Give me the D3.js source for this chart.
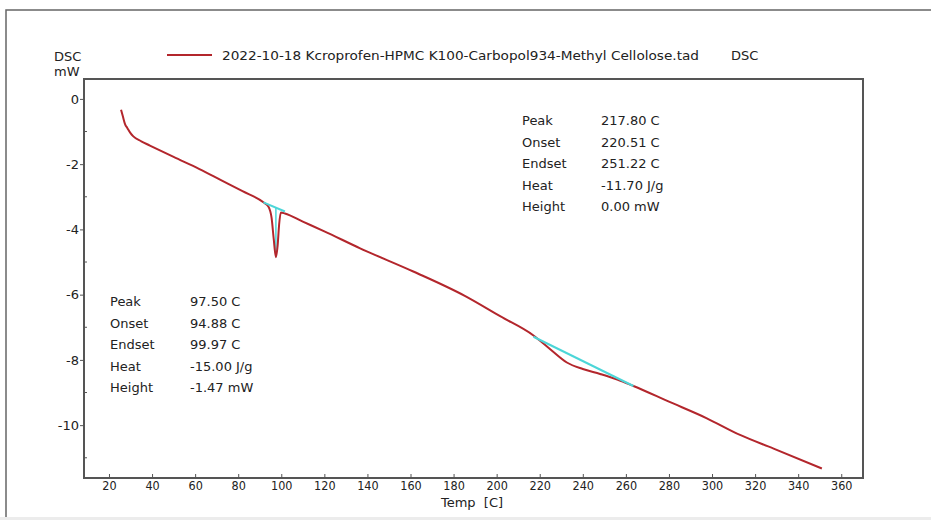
<!DOCTYPE html>
<html>
<head>
<meta charset="utf-8">
<script src="https://cdn.jsdelivr.net/npm/d3@7"></script>
<style>
  body { margin: 0; background: #fff; }
  svg { display: block; font-family: "DejaVu Sans", Verdana, sans-serif; }
  .axis path, .axis line { stroke: #555; }
  .axis text { font-size: 13px; fill: #222; font-family: "DejaVu Sans", sans-serif; }
  .axis--x text { font-size: 12.5px; font-family: "DejaVu Sans Condensed", "DejaVu Sans", sans-serif; }
</style>
</head>
<body>
<svg width="931" height="520"></svg>
<script>
// measured DSC curve (temperature in C, heat flow in mW)
var temps = [25.6, 26.5, 27.5, 28.5, 30, 31.3, 35, 39, 50, 62, 72, 82, 91.7, 94, 95.5, 96.5, 97.5, 98.3, 99, 99.8, 101.7, 110, 120, 136.6, 161.3, 185, 201.6, 217.1, 225, 232.6, 240, 248, 256, 263.5, 280, 297.6, 313, 328.6, 351];
var dsc = [-0.33, -0.55, -0.78, -0.89, -1.05, -1.15, -1.3, -1.43, -1.78, -2.15, -2.49, -2.83, -3.17, -3.3, -3.65, -4.3, -4.85, -4.5, -3.85, -3.48, -3.51, -3.76, -4.06, -4.58, -5.29, -6.03, -6.66, -7.25, -7.68, -8.08, -8.28, -8.43, -8.6, -8.8, -9.28, -9.79, -10.3, -10.72, -11.33];

// integration baselines drawn by the software
var base1T = [91.7, 101.7];
var base1V = [-3.17, -3.45];
var base2T = [217.1, 263.5];
var base2V = [-7.29, -8.8];
var peak1 = { t: 97.5, top: -3.33, bottom: -4.85 };

var xTicks = d3.range(20, 361, 20);
var yTicks = [0, -2, -4, -6, -8, -10];
var yMinor = [-1, -3, -5, -7, -9, -11];

var annoNames = ["Peak", "Onset", "Endset", "Heat", "Height"];
var annoLeft = ["97.50 C", "94.88 C", "99.97 C", "-15.00 J/g", "-1.47 mW"];
var annoRight = ["217.80 C", "220.51 C", "251.22 C", "-11.70 J/g", "0.00 mW"];

var legendLabel = "2022-10-18 Kcroprofen-HPMC K100-Carbopol934-Methyl Cellolose.tad";

var red = "#b3262c",
  cyan = "#4cd6d8";

var svg = d3.select("svg"),
  margin = { top: 79, right: 68, bottom: 42, left: 84 },
  width = +svg.attr("width") - margin.left - margin.right,
  height = +svg.attr("height") - margin.top - margin.bottom;

// outer frame of the exported report
svg.append("rect").attr("x", 0).attr("y", 517).attr("width", 931).attr("height", 3).attr("fill", "#ececec");
svg.append("path")
  .attr("d", "M6,517V10H931")
  .attr("fill", "none")
  .attr("stroke", "#666")
  .attr("stroke-width", 1.5);

var x = d3.scaleLinear().domain([8.4, 370.1]).range([0, width]),
  y = d3.scaleLinear().domain([-11.62, 0.61]).range([height, 0]);

var g = svg.append("g").attr("transform", "translate(" + margin.left + "," + margin.top + ")");

// plot frame
g.append("rect")
  .attr("width", width)
  .attr("height", height)
  .attr("fill", "none")
  .attr("stroke", "#555")
  .attr("stroke-width", 2);

g.append("g")
  .attr("class", "axis axis--x")
  .attr("transform", "translate(0," + height + ")")
  .call(d3.axisBottom(x).tickValues(xTicks).tickSizeInner(-4).tickSizeOuter(0).tickPadding(3))
  .call(function (a) {
    a.select(".domain").remove();
  });

g.append("g")
  .attr("class", "axis axis--y")
  .call(
    d3.axisLeft(y)
      .tickValues(yTicks)
      .tickFormat(function (d) { return String(d); })
      .tickSizeInner(4)
      .tickSizeOuter(0)
      .tickPadding(1)
  )
  .call(function (a) {
    a.select(".domain").remove();
  });

g.selectAll(".minor")
  .data(yMinor)
  .enter()
  .append("line")
  .attr("class", "minor")
  .attr("x1", 0)
  .attr("x2", 3)
  .attr("y1", function (d) { return y(d); })
  .attr("y2", function (d) { return y(d); })
  .attr("stroke", "#555");

svg.append("text")
  .attr("x", 472)
  .attr("y", 502)
  .attr("dy", "0.35em")
  .attr("text-anchor", "middle")
  .attr("font-size", 13)
  .attr("fill", "#222")
  .text("Temp\u00a0\u00a0[C]");

// curve
var pts = temps.map(function (t, i) { return [t, dsc[i]]; });
var line = d3.line()
  .x(function (d) { return x(d[0]); })
  .y(function (d) { return y(d[1]); })
  .curve(d3.curveMonotoneX);

// first peak: height marker, then curve and baselines
g.append("line")
  .attr("x1", x(peak1.t)).attr("x2", x(peak1.t))
  .attr("y1", y(peak1.top)).attr("y2", y(peak1.bottom))
  .attr("stroke", cyan).attr("stroke-width", 1.5);

g.append("path")
  .datum(pts)
  .attr("fill", "none")
  .attr("stroke", red)
  .attr("stroke-width", 2)
  .attr("d", line);

var straight = d3.line().x(function (d) { return x(d[0]); }).y(function (d) { return y(d[1]); });

g.append("path")
  .datum(base1T.map(function (t, i) { return [t, base1V[i]]; }))
  .attr("fill", "none")
  .attr("stroke", cyan)
  .attr("stroke-width", 2)
  .attr("d", straight);

g.append("path")
  .datum(base2T.map(function (t, i) { return [t, base2V[i]]; }))
  .attr("fill", "none")
  .attr("stroke", cyan)
  .attr("stroke-width", 2)
  .attr("d", straight);

// result tables
function table(x0, x1, y0, values) {
  var t = svg.append("g").attr("font-size", 13).attr("fill", "#222");
  annoNames.forEach(function (n, i) {
    t.append("text").attr("x", x0).attr("y", y0 + i * 21.5).attr("dy", "0.35em").text(n);
    t.append("text").attr("x", x1).attr("y", y0 + i * 21.5).attr("dy", "0.35em").text(values[i]);
  });
}
table(110, 190, 301.7, annoLeft);
table(522, 601, 120.7, annoRight);

// header: unit label and legend
svg.append("text").attr("x", 54).attr("y", 56).attr("dy", "0.35em").attr("font-size", 13).attr("fill", "#222").text("DSC");
svg.append("text").attr("x", 54).attr("y", 71).attr("dy", "0.35em").attr("font-size", 13).attr("fill", "#222").text("mW");

svg.append("line")
  .attr("x1", 167).attr("x2", 212).attr("y1", 55).attr("y2", 55)
  .attr("stroke", red).attr("stroke-width", 2);
svg.append("text")
  .attr("x", 222).attr("y", 55).attr("dy", "0.35em")
  .attr("font-size", 13).attr("fill", "#222")
  .attr("textLength", 477).attr("lengthAdjust", "spacingAndGlyphs")
  .text(legendLabel);
svg.append("text").attr("x", 731).attr("y", 55).attr("dy", "0.35em").attr("font-size", 13).attr("fill", "#222").text("DSC");
</script>
</body>
</html>
